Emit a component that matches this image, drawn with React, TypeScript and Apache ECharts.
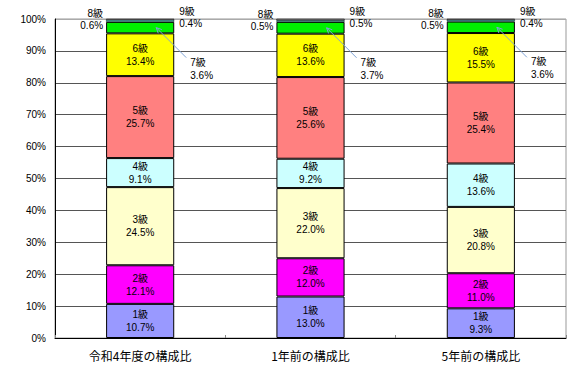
import React, { useEffect, useRef } from "react";
import * as echarts from "echarts";

const categories = ["令和4年度の構成比", "1年前の構成比", "5年前の構成比"];
const gradeNames = ["1級", "2級", "3級", "4級", "5級", "6級", "7級", "8級", "9級"];
const grade1 = [10.7, 13.0, 9.3];
const grade2 = [12.1, 12.0, 11.0];
const grade3 = [24.5, 22.0, 20.8];
const grade4 = [9.1, 9.2, 13.6];
const grade5 = [25.7, 25.6, 25.4];
const grade6 = [13.4, 13.6, 15.5];
const grade7 = [3.6, 3.7, 3.6];
const grade8 = [0.6, 0.5, 0.5];
const grade9 = [0.4, 0.5, 0.4];
const gradeColors = ["#9999FF", "#FF00FF", "#FFFFCC", "#CCFFFF", "#FF8080", "#FFFF00", "#00F000", "#33CCCC", "#969696"];

const FONT = "'Liberation Sans', 'Noto Sans CJK JP', sans-serif";

export default function App() {
  const ref = useRef<HTMLDivElement>(null);
  useEffect(() => {
    if (!ref.current) return;
    const chart = echarts.init(ref.current, null, { renderer: "svg" });
    const all = [grade1, grade2, grade3, grade4, grade5, grade6, grade7, grade8, grade9];
    const fmt = (p: any) => `${p.seriesName}\n${Number(p.value).toFixed(1)}%`;
    const barSeries = all.map((vals, i) => {
      let label: any = {
        show: true,
        position: "inside",
        formatter: fmt,
        color: "#000",
        fontSize: 10,
        lineHeight: 13,
        fontFamily: FONT,
      };
      if (i === 6) {
        label = { ...label, position: "right", distance: 16, offset: [0, 41], align: "left" };
      } else if (i === 7) {
        label = { ...label, position: "left", distance: 3, offset: [0, -1], align: "right", lineHeight: 12 };
      } else if (i === 8) {
        label = { ...label, position: "right", distance: 5, offset: [0, -2], align: "left", lineHeight: 12 };
      }
      return {
        name: gradeNames[i],
        type: "bar",
        stack: "total",
        barWidth: "40%",
        data: vals,
        itemStyle: { color: gradeColors[i], borderColor: "#000", borderWidth: i >= 7 ? 0.5 : 1 },
        label,
        z: 2,
      };
    });
    // arrow targets: middle of 7級 segment
    const arrowData = categories.map((_, c) => {
      let base = 0;
      for (let k = 0; k < 6; k++) base += all[k][c];
      return [c, base + grade7[c] / 2];
    });
    const arrowColor = "#7FA3D6";
    const arrowSeries = {
      type: "custom",
      data: arrowData,
      z: 10,
      silent: true,
      renderItem: (params: any, api: any) => {
        const pt = api.coord([api.value(0), api.value(1)]);
        const bw = api.size([1, 0])[0] * 0.4;
        const hx = pt[0] + bw / 2 - 18;
        const hy = pt[1];
        const tx = pt[0] + bw / 2 + 12;
        const ty = pt[1] + 30;
        const ang = Math.atan2(ty - hy, tx - hx);
        const L = 6;
        return {
          type: "group",
          children: [
            { type: "line", shape: { x1: tx, y1: ty, x2: hx, y2: hy }, style: { stroke: arrowColor, lineWidth: 1 } },
            {
              type: "polyline",
              shape: {
                points: [
                  [hx + L * Math.cos(ang + 0.45), hy + L * Math.sin(ang + 0.45)],
                  [hx, hy],
                  [hx + L * Math.cos(ang - 0.45), hy + L * Math.sin(ang - 0.45)],
                ],
              },
              style: { stroke: arrowColor, fill: "none", lineWidth: 1 },
            },
          ],
        };
      },
    };
    const splitColors = ["#555", "#555", "#555", "#555", "#555", "#555", "#555", "#555", "#555", "#555", "#aaa"];
    chart.setOption({
      animation: false,
      textStyle: { fontFamily: FONT },
      grid: { left: 55, right: 12, top: 19, bottom: 36, show: true, borderColor: "#999", borderWidth: 1 },
      xAxis: {
        type: "category",
        data: categories,
        axisLine: { lineStyle: { color: "#000" } },
        axisTick: { show: true, inside: true, length: 3, lineStyle: { color: "#888" } },
        axisLabel: { color: "#000", fontSize: 12, margin: 11, fontFamily: "'Noto Sans CJK JP', sans-serif" },
      },
      yAxis: {
        type: "value",
        min: 0,
        max: 100,
        interval: 10,
        axisLine: { show: true, lineStyle: { color: "#000" } },
        axisTick: { show: false },
        axisLabel: { color: "#000", fontSize: 10, margin: 9, formatter: "{value}%", fontFamily: FONT },
        splitLine: { show: true, lineStyle: { color: splitColors, width: 1 } },
      },
      series: [...barSeries, arrowSeries],
    });
    return () => chart.dispose();
  }, []);
  return <div ref={ref} style={{ position: "fixed", left: 0, top: 0, width: 578, height: 374, background: "#fff" }} />;
}
